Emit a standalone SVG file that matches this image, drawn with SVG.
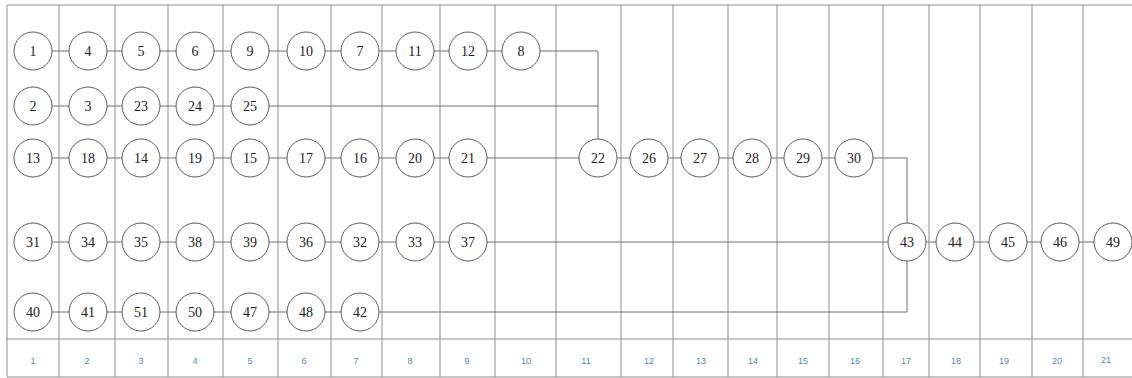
<svg xmlns="http://www.w3.org/2000/svg" width="1132" height="378" viewBox="0 0 1132 378">
<style>
.grid{stroke:#8f8f8f;stroke-width:1;fill:none}
.conn{stroke:#707070;stroke-width:1;fill:none}
.node circle{fill:#fff;stroke:#5a5a5a;stroke-width:1}
.node text{font-family:"Liberation Serif","Times New Roman",serif;font-size:14px;fill:#222;text-anchor:middle}
.col{font-family:"Liberation Sans",Arial,sans-serif;font-size:9px;fill:#4f8ac0;text-anchor:middle}
</style>
<rect width="1132" height="378" fill="#fff"/>
<g id="grid" class="grid">
<path d="M7,5 H1132 M7,339 H1132 M7,377 H1132"/>
<path d="M7,5 V377 M59,5 V377 M115,5 V377 M168,5 V377 M223,5 V377 M278,5 V377 M331,5 V377 M382,5 V377 M440,5 V377 M495,5 V377 M556,5 V377 M621,5 V377 M673,5 V377 M728,5 V377 M777,5 V377 M829,5 V377 M883,5 V377 M929,5 V377 M980,5 V377 M1032,5 V377 M1083,5 V377"/>
</g>
<g id="column-labels">
<text class="col" x="33" y="364">1</text>
<text class="col" x="87" y="364">2</text>
<text class="col" x="141" y="364">3</text>
<text class="col" x="195" y="364">4</text>
<text class="col" x="250" y="364">5</text>
<text class="col" x="304" y="364">6</text>
<text class="col" x="356" y="364">7</text>
<text class="col" x="410" y="364">8</text>
<text class="col" x="467" y="364">9</text>
<text class="col" x="526" y="364">10</text>
<text class="col" x="586" y="364">11</text>
<text class="col" x="649" y="364">12</text>
<text class="col" x="701" y="364">13</text>
<text class="col" x="753" y="364">14</text>
<text class="col" x="803" y="364">15</text>
<text class="col" x="855" y="364">16</text>
<text class="col" x="906" y="364">17</text>
<text class="col" x="956" y="364">18</text>
<text class="col" x="1004" y="364">19</text>
<text class="col" x="1057" y="364">20</text>
<text class="col" x="1106" y="363">21</text>
</g>
<g id="connectors" class="conn">
<path d="M33,51 H598 V158"/>
<path d="M33,106 H598"/>
<path d="M33,158 H907 V242"/>
<path d="M33,242 H1113"/>
<path d="M33,312 H907 V242"/>
</g>
<g id="nodes">
<g id="n1" class="node"><circle cx="33" cy="51" r="19"/><text x="33" y="56">1</text></g>
<g id="n4" class="node"><circle cx="88" cy="51" r="19"/><text x="88" y="56">4</text></g>
<g id="n5" class="node"><circle cx="141" cy="51" r="19"/><text x="141" y="56">5</text></g>
<g id="n6" class="node"><circle cx="195" cy="51" r="19"/><text x="195" y="56">6</text></g>
<g id="n9" class="node"><circle cx="250" cy="51" r="19"/><text x="250" y="56">9</text></g>
<g id="n10" class="node"><circle cx="306" cy="51" r="19"/><text x="306" y="56">10</text></g>
<g id="n7" class="node"><circle cx="360" cy="51" r="19"/><text x="360" y="56">7</text></g>
<g id="n11" class="node"><circle cx="415" cy="51" r="19"/><text x="415" y="56">11</text></g>
<g id="n12" class="node"><circle cx="468" cy="51" r="19"/><text x="468" y="56">12</text></g>
<g id="n8" class="node"><circle cx="521" cy="51" r="19"/><text x="521" y="56">8</text></g>
<g id="n2" class="node"><circle cx="33" cy="106" r="19"/><text x="33" y="111">2</text></g>
<g id="n3" class="node"><circle cx="88" cy="106" r="19"/><text x="88" y="111">3</text></g>
<g id="n23" class="node"><circle cx="141" cy="106" r="19"/><text x="141" y="111">23</text></g>
<g id="n24" class="node"><circle cx="195" cy="106" r="19"/><text x="195" y="111">24</text></g>
<g id="n25" class="node"><circle cx="250" cy="106" r="19"/><text x="250" y="111">25</text></g>
<g id="n13" class="node"><circle cx="33" cy="158" r="19"/><text x="33" y="163">13</text></g>
<g id="n18" class="node"><circle cx="88" cy="158" r="19"/><text x="88" y="163">18</text></g>
<g id="n14" class="node"><circle cx="141" cy="158" r="19"/><text x="141" y="163">14</text></g>
<g id="n19" class="node"><circle cx="195" cy="158" r="19"/><text x="195" y="163">19</text></g>
<g id="n15" class="node"><circle cx="250" cy="158" r="19"/><text x="250" y="163">15</text></g>
<g id="n17" class="node"><circle cx="306" cy="158" r="19"/><text x="306" y="163">17</text></g>
<g id="n16" class="node"><circle cx="360" cy="158" r="19"/><text x="360" y="163">16</text></g>
<g id="n20" class="node"><circle cx="415" cy="158" r="19"/><text x="415" y="163">20</text></g>
<g id="n21" class="node"><circle cx="468" cy="158" r="19"/><text x="468" y="163">21</text></g>
<g id="n22" class="node"><circle cx="598" cy="158" r="19"/><text x="598" y="163">22</text></g>
<g id="n26" class="node"><circle cx="649" cy="158" r="19"/><text x="649" y="163">26</text></g>
<g id="n27" class="node"><circle cx="700" cy="158" r="19"/><text x="700" y="163">27</text></g>
<g id="n28" class="node"><circle cx="752" cy="158" r="19"/><text x="752" y="163">28</text></g>
<g id="n29" class="node"><circle cx="803" cy="158" r="19"/><text x="803" y="163">29</text></g>
<g id="n30" class="node"><circle cx="854" cy="158" r="19"/><text x="854" y="163">30</text></g>
<g id="n31" class="node"><circle cx="33" cy="242" r="19"/><text x="33" y="247">31</text></g>
<g id="n34" class="node"><circle cx="88" cy="242" r="19"/><text x="88" y="247">34</text></g>
<g id="n35" class="node"><circle cx="141" cy="242" r="19"/><text x="141" y="247">35</text></g>
<g id="n38" class="node"><circle cx="195" cy="242" r="19"/><text x="195" y="247">38</text></g>
<g id="n39" class="node"><circle cx="250" cy="242" r="19"/><text x="250" y="247">39</text></g>
<g id="n36" class="node"><circle cx="306" cy="242" r="19"/><text x="306" y="247">36</text></g>
<g id="n32" class="node"><circle cx="360" cy="242" r="19"/><text x="360" y="247">32</text></g>
<g id="n33" class="node"><circle cx="415" cy="242" r="19"/><text x="415" y="247">33</text></g>
<g id="n37" class="node"><circle cx="468" cy="242" r="19"/><text x="468" y="247">37</text></g>
<g id="n43" class="node"><circle cx="907" cy="242" r="19"/><text x="907" y="247">43</text></g>
<g id="n44" class="node"><circle cx="955" cy="242" r="19"/><text x="955" y="247">44</text></g>
<g id="n45" class="node"><circle cx="1008" cy="242" r="19"/><text x="1008" y="247">45</text></g>
<g id="n46" class="node"><circle cx="1060" cy="242" r="19"/><text x="1060" y="247">46</text></g>
<g id="n49" class="node"><circle cx="1113" cy="242" r="19"/><text x="1113" y="247">49</text></g>
<g id="n40" class="node"><circle cx="33" cy="312" r="19"/><text x="33" y="317">40</text></g>
<g id="n41" class="node"><circle cx="88" cy="312" r="19"/><text x="88" y="317">41</text></g>
<g id="n51" class="node"><circle cx="141" cy="312" r="19"/><text x="141" y="317">51</text></g>
<g id="n50" class="node"><circle cx="195" cy="312" r="19"/><text x="195" y="317">50</text></g>
<g id="n47" class="node"><circle cx="250" cy="312" r="19"/><text x="250" y="317">47</text></g>
<g id="n48" class="node"><circle cx="306" cy="312" r="19"/><text x="306" y="317">48</text></g>
<g id="n42" class="node"><circle cx="360" cy="312" r="19"/><text x="360" y="317">42</text></g>
</g>
</svg>
